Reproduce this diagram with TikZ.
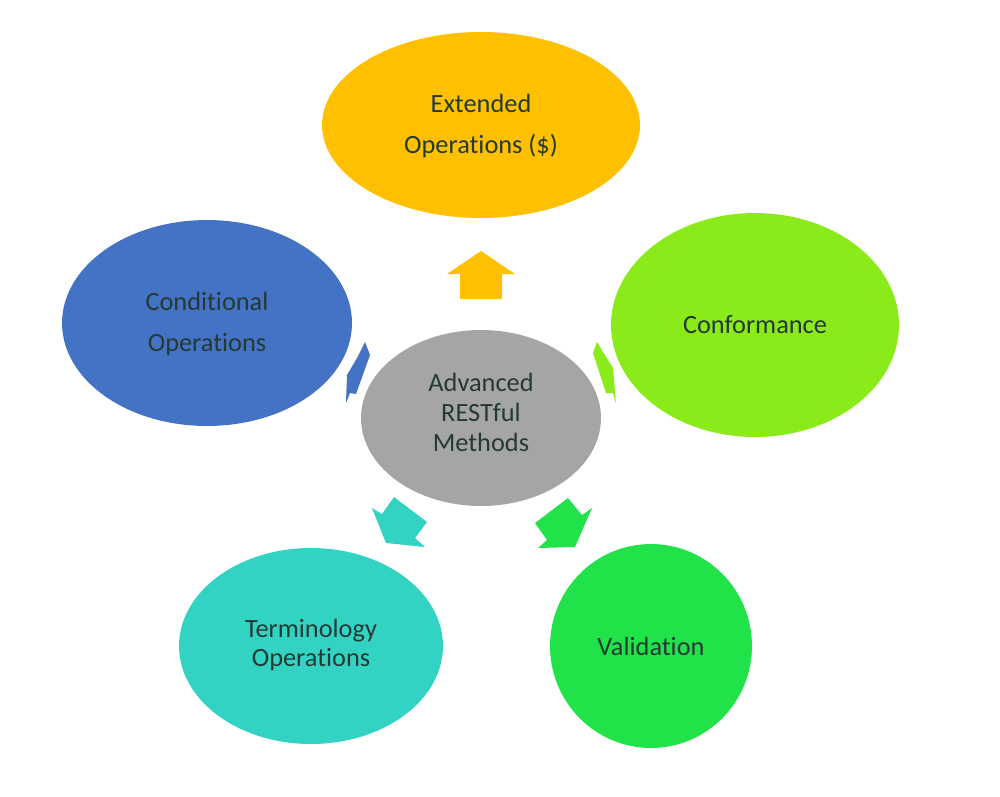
\documentclass[tikz,border=0pt]{standalone}
\usepackage{fontspec}
\setmainfont[Ligatures={NoCommon}]{Carlito}
\usetikzlibrary{shapes.geometric}
\definecolor{extcol}{HTML}{FFC000}
\definecolor{confcol}{RGB}{138,234,26}
\definecolor{validcol}{RGB}{34,226,74}
\definecolor{termcol}{RGB}{51,211,196}
\definecolor{condcol}{HTML}{4472C4}
\definecolor{hubcol}{HTML}{A5A5A5}
\definecolor{txtcol}{RGB}{36,58,51}
\begin{document}
\begin{tikzpicture}[x=0.02cm,y=-0.02cm,
	bubble/.style={ellipse,inner sep=0pt,text=txtcol,font=\fontsize{15}{23}\selectfont},
	tight/.style={font=\fontsize{15}{17}\selectfont}]
	\useasboundingbox (0,0) rectangle (1000,796);
	
	\node[bubble,fill=hubcol,tight,minimum width=4.8cm,minimum height=3.52cm] (hub) at (481,418){\begin{tabular}{c}Advanced\\RESTful\\Methods\\[2.5pt]\end{tabular}};
	
	\node[bubble,fill=extcol,minimum width=6.36cm,minimum height=3.72cm] (ext) at (481,125){\begin{tabular}{c}Extended\\Operations (\$)\end{tabular}};
	
	\node[bubble,fill=confcol,minimum width=5.76cm,minimum height=4.48cm] (conf) at (755,325){Conformance};
	
	\node[bubble,fill=validcol,minimum width=4.04cm,minimum height=4.08cm] (valid) at (651,646){Validation};
	
	\node[bubble,fill=termcol,tight,minimum width=5.28cm,minimum height=3.92cm] (term) at (311,646){\begin{tabular}{c}Terminology\\Operations\end{tabular}};
	
	\node[bubble,fill=condcol,minimum width=5.8cm,minimum height=4.12cm] (cond) at (207,323){\begin{tabular}{c}Conditional\\Operations\end{tabular}};
	
	% block arrows from the hub
	\fill[extcol] (481,251) -- (515,274) -- (502,274) -- (502,299) -- (460,299) -- (460,274) -- (447,274) -- cycle;
	\fill[confcol] (597,342) -- (603,352) -- (613,368) -- (616,403) -- (613,393) -- (606,393) -- (593,353) -- cycle;
	\fill[validcol] (535,523) -- (568,498) -- (582,515) -- (592,508) -- (575,547) -- (538,548) -- (547,540) -- cycle;
	\fill[termcol] (372,508) -- (382,514) -- (394,497) -- (427,522) -- (415,538) -- (425,547) -- (386,543) -- cycle;
	\fill[condcol] (365,342) -- (370,355) -- (356,394) -- (350,393) -- (346,403) -- (347,375) -- (357,358) -- cycle;
\end{tikzpicture}
\end{document}
